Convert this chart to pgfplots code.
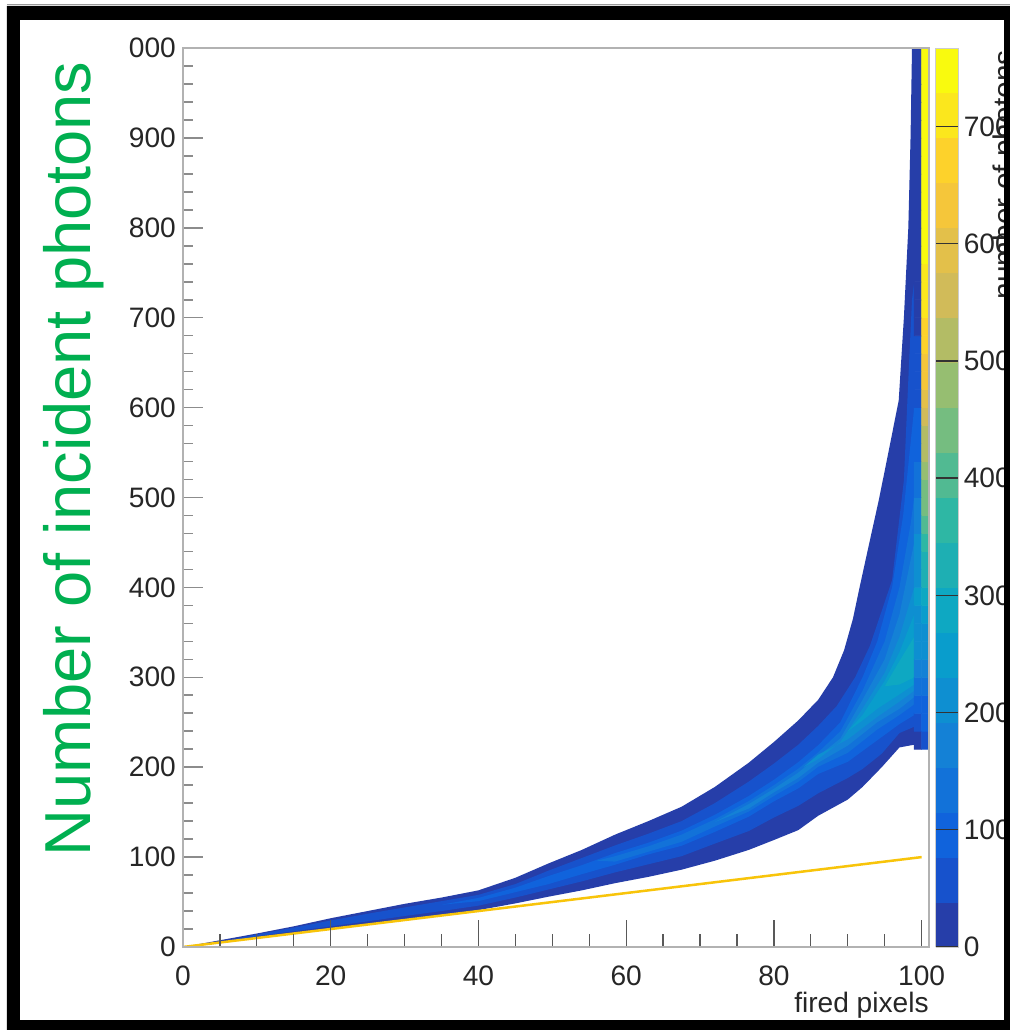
\documentclass[border=0pt]{standalone}
\usepackage{fontspec}
\setmainfont{Liberation Sans}
\usepackage{pgfplots}
\pgfplotsset{compat=1.18}

% ROOT kBird palette, 20 contour bands
\definecolor{b0}{rgb}{0.149,0.243,0.664}
\definecolor{b1}{rgb}{0.090,0.320,0.799}
\definecolor{b2}{rgb}{0.063,0.388,0.863}
\definecolor{b3}{rgb}{0.070,0.446,0.851}
\definecolor{b4}{rgb}{0.078,0.504,0.839}
\definecolor{b5}{rgb}{0.056,0.559,0.820}
\definecolor{b6}{rgb}{0.034,0.614,0.801}
\definecolor{b7}{rgb}{0.054,0.657,0.762}
\definecolor{b8}{rgb}{0.117,0.687,0.703}
\definecolor{b9}{rgb}{0.180,0.718,0.643}
\definecolor{b10}{rgb}{0.319,0.730,0.573}
\definecolor{b11}{rgb}{0.459,0.743,0.502}
\definecolor{b12}{rgb}{0.587,0.746,0.443}
\definecolor{b13}{rgb}{0.702,0.739,0.397}
\definecolor{b14}{rgb}{0.818,0.733,0.350}
\definecolor{b15}{rgb}{0.889,0.754,0.289}
\definecolor{b16}{rgb}{0.960,0.775,0.228}
\definecolor{b17}{rgb}{0.992,0.825,0.169}
\definecolor{b18}{rgb}{0.984,0.904,0.112}
\definecolor{b19}{rgb}{0.976,0.982,0.055}
\definecolor{titlegreen}{RGB}{0,175,80}
\definecolor{diag}{RGB}{248,196,10}

\pgfplotsset{
  colormap={bird}{color=(b0) color=(b1) color=(b2) color=(b3) color=(b4)
    color=(b5) color=(b6) color=(b7) color=(b8) color=(b9) color=(b10)
    color=(b11) color=(b12) color=(b13) color=(b14) color=(b15) color=(b16)
    color=(b17) color=(b18) color=(b19)},
}

\pgfplotstableread{
x y c
99.5 230 20
100.5 230 40
99.5 250 60
100.5 250 80
99.5 270 100
100.5 270 110
99.5 290 140
100.5 290 140
99.5 310 170
100.5 310 170
99.5 330 195
100.5 330 200
99.5 350 215
100.5 350 225
99.5 370 230
100.5 370 255
99.5 390 235
100.5 390 285
99.5 410 230
100.5 410 315
99.5 430 220
100.5 430 345
99.5 450 205
100.5 450 375
99.5 470 185
100.5 470 405
99.5 490 165
100.5 490 430
99.5 510 145
100.5 510 455
99.5 530 125
100.5 530 480
99.5 550 110
100.5 550 505
99.5 570 95
100.5 570 530
99.5 590 80
100.5 590 560
99.5 610 70
100.5 610 590
99.5 630 60
100.5 630 615
99.5 650 50
100.5 650 640
99.5 670 44
100.5 670 660
99.5 690 38
100.5 690 680
99.5 710 34
100.5 710 700
99.5 730 30
100.5 730 715
99.5 750 27
100.5 750 725
99.5 770 24
100.5 770 735
99.5 790 21
100.5 790 742
99.5 810 18
100.5 810 748
99.5 830 16
100.5 830 752
99.5 850 14
100.5 850 756
99.5 870 12
100.5 870 759
99.5 890 10
100.5 890 761
99.5 910 9
100.5 910 763
99.5 930 8
100.5 930 764
99.5 950 7
100.5 950 765
99.5 970 6
100.5 970 766
99.5 990 5
100.5 990 766
}\edgecols

\begin{document}
\begin{tikzpicture}
\useasboundingbox (0,0) rectangle (20.2,20.6);
\fill[white] (0,0) rectangle (20.2,20.6);
\begin{axis}[
  at={(3.66cm,1.66cm)}, anchor=south west,
  scale only axis, width=14.92cm, height=17.98cm,
  xmin=0, xmax=101, ymin=0, ymax=1000,
  axis on top,
  colormap name=bird,
  colormap access=piecewise constant,
  point meta min=0, point meta max=767,
  xtick={0,20,...,100}, minor x tick num=3,
  ytick={0,100,...,1000}, minor y tick num=4,
  yticklabels={0,100,200,300,400,500,600,700,800,900,000},
  xtick pos=bottom, ytick pos=left,
  tick align=inside,
  xtick style={/pgfplots/major tick length=0.54cm,/pgfplots/minor tick length=0.26cm,color=black!65,line width=0.7pt},
  ytick style={/pgfplots/major tick length=0.40cm,/pgfplots/minor tick length=0.20cm,color=black!45,line width=0.9pt},
  axis line style={color=black!30,line width=0.7pt},
  /pgf/number format/assume math mode=true,
  ticklabel style={font=\fontsize{16}{16}\selectfont,color=black!85},
  xticklabel style={yshift=-0.26cm},
  yticklabel style={xshift=-0.02cm},
  xlabel={fired pixels},
  xlabel style={at={(axis description cs:1,0)}, anchor=base east, yshift=-1.30cm,
    inner sep=0pt, font=\fontsize{16}{16}\selectfont, color=black!85},
  colorbar right,
  colorbar style={
    at={(parent axis.south east)}, anchor=south west, xshift=-0.17cm,
    width=0.46cm, height=17.98cm,
    ytick={0,100,...,700},
    yticklabel pos=right, ytick pos=right,
    tick align=inside,
    major tick length=0.46cm,
    tick style={color=black!80,line width=0.8pt},
    axis line style={color=black!20,line width=0.4pt},
    /pgf/number format/assume math mode=true,
    yticklabel style={font=\fontsize{16}{16}\selectfont,color=black!85,inner sep=0pt,xshift=0.1cm},
  },
]

% outer envelope, band 0
\addplot[fill=b0, draw=none] coordinates {
(0,0) (5,7.5) (10,15) (15,23) (20,32) (25,40) (30,48) (35,55) (40,63) (45,77)
(49.5,93) (54,108) (58.5,125) (63,140) (67.5,156) (72,178) (76.6,205) (80,228)
(83.3,252) (86,275) (88,300) (89.5,330) (90.7,365) (91.6,400) (92.8,445) (94.2,497)
(95.5,550) (96.9,608) (97.6,700) (98.2,800) (98.5,900) (98.7,1000) (99,1000)
(99,225) (97,222) (94.6,200) (92,178) (90,164) (86,146) (83.3,130) (80,119)
(76.6,108) (72,96) (67.5,86) (63,78) (58.5,71) (54,63) (49.5,56) (45,48.5)
(40,41) (30,30.5) (20,20.5) (10,10.3)
} -- cycle;

% band 1
\addplot[fill=b1, draw=none] coordinates {
(6,7) (10,14) (15,21.5) (20,29.5) (25,37) (30,44) (35,51) (40,58) (45,70)
(49.5,85) (54,99) (58.5,113) (63,126) (67.5,140) (72,160) (76.6,184) (80,204)
(83.3,225) (86,246) (88.5,268) (91,300) (93,335) (96,408) (97.6,519) (98.2,631)
(98.7,720) (99,740)
(99,245) (97,238) (94.6,215) (92,198) (90,188) (86,171) (83.3,157) (80,144)
(76.6,129) (72,115) (67.5,101) (63,92) (58.5,83) (54,73) (49.5,64) (45,55)
(40,46) (35,40) (30,34.5) (25,28.5) (20,23) (15,17.5) (10,11.8)
} -- cycle;

% band 2
\addplot[fill=b2, draw=none] coordinates {
(35,47) (40,54.6) (45,66) (49.5,79) (54,91) (58.5,104.5) (63,116) (67.5,129.4)
(72,147) (76.6,168) (80,186) (83.3,205.6) (86,224.5) (89,250) (92,300) (94,340)
(96,400) (97.5,480) (98.5,560) (99,600)
(99,258) (97,248) (94,230) (90,206) (86,192.5) (83.3,176.4) (80,162) (76.6,145)
(72,128) (67.5,112.6) (63,103) (58.5,91.5) (54,81) (49.5,70) (45,61) (40,51)
} -- cycle;

% band 3
\addplot[fill=b3, draw=none] coordinates {
(56,96) (58.5,101) (63,112) (67.5,125) (72,142) (76.6,162.3) (80,180) (83.3,198.3)
(86,216.5) (89,240) (92,285) (95,340) (97,400) (98.5,470) (99,500)
(99,270) (97,258) (94,242) (90,216) (86,200.5) (83.3,183.7) (80,168) (76.6,150.7)
(72,134) (67.5,117) (63,106) (58.5,95)
} -- cycle;

% band 4
\addplot[fill=b4, draw=none] coordinates {
(72,139) (76.6,159) (80,176) (83.3,194) (86,212) (89,232) (92,275) (95,320)
(97,370) (98.5,430) (99,450)
(99,278) (97,265) (94,250) (90,224) (86,205) (83.3,188) (80,172) (76.6,154)
} -- cycle;

% band 5
\addplot[fill=b5, draw=none] coordinates {
(84,200) (86,209) (89,228) (92,265) (95,305) (97,345) (99,400)
(99,285) (97,273) (94,256) (90,231) (86,214)
} -- cycle;

% band 6
\addplot[fill=b6, draw=none] coordinates {
(90,240) (92,258) (95,296) (97,328) (99,370)
(99,292) (97,281) (94,265) (92,252)
} -- cycle;

% band 7
\addplot[fill=b7, draw=none] coordinates {
(95,290) (97,318) (99,345) (99,300) (97,292)
} -- cycle;

% last two columns (99 and 100 fired pixels)
\addplot[matrix plot*, mesh/cols=2, point meta=explicit] table[x=x, y=y, meta=c] {\edgecols};

% diagonal
\addplot[color=diag, line width=0.05cm] coordinates {(0,0) (100,100)};

\end{axis}

\node[rotate=90, anchor=base, font=\fontsize{37}{37}\selectfont, color=titlegreen]
  at (1.80,11.42) {Number of incident photons};
\node[rotate=90, anchor=north east, inner sep=0pt, font=\fontsize{17}{17}\selectfont, color=black!85]
  at (19.84,19.6) {number of photons};

% window frame
\fill[black, even odd rule] (0.14,0) rectangle (20.2,20.48) (0.40,0.20) rectangle (20.08,20.20);
\draw[black!40, line width=0.3pt] (0.14,20.52) -- (20.2,20.52);
\end{tikzpicture}
\end{document}
